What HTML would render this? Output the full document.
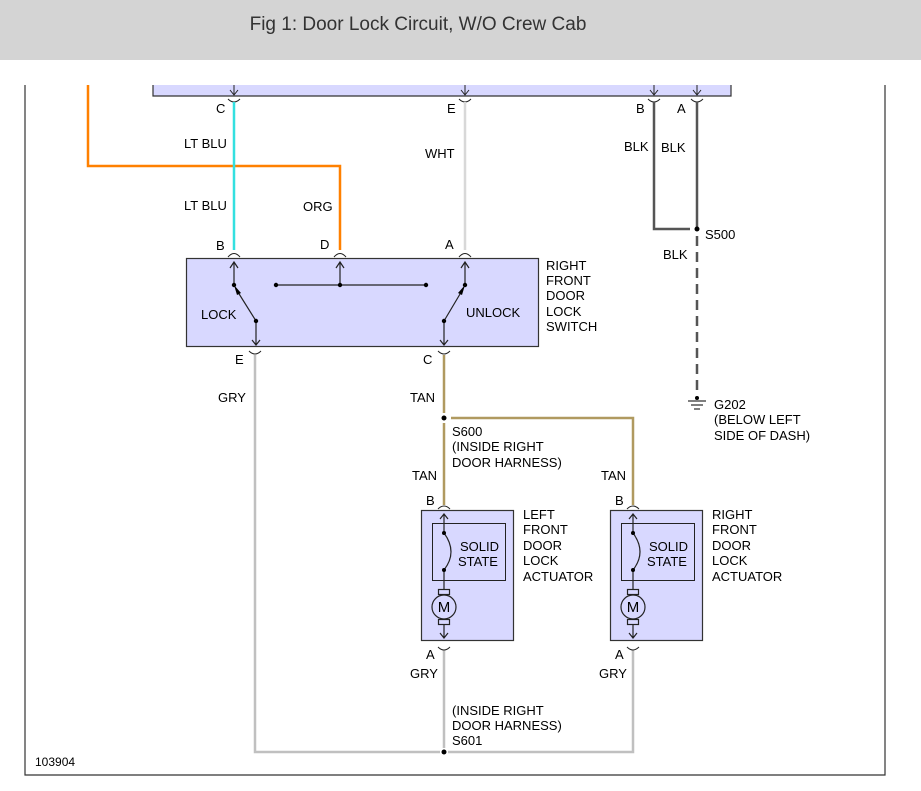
<!DOCTYPE html>
<html><head><meta charset="utf-8"><style>
html,body{margin:0;padding:0;background:#fff;}
svg{display:block;}
text{font-family:"Liberation Sans",Arial,sans-serif;font-size:13px;fill:#000;}
</style></head><body>
<svg width="921" height="791" viewBox="0 0 921 791" xmlns="http://www.w3.org/2000/svg">
<rect x="0" y="0" width="921" height="60" fill="#d4d4d4"/>
<text x="418" y="30" text-anchor="middle" style="font-size:19px;fill:#333">Fig 1: Door Lock Circuit, W/O Crew Cab</text>
<path d="M25 85 V775 H885 V85" fill="none" stroke="#333" stroke-width="1.2"/>
<path d="M153 85 V96 H731 V85" fill="#d8d8ff" stroke="#333" stroke-width="1.2"/>
<rect x="154" y="85" width="576" height="10" fill="#d8d8ff"/>
<g fill="none" stroke="#222" stroke-width="1">
<path d="M234 85V95 M230 90L234 95L238 90"/>
<path d="M465 85V95 M461 90L465 95L469 90"/>
<path d="M654 85V95 M650 90L654 95L658 90"/>
<path d="M697 85V95 M693 90L697 95L701 90"/>
<path d="M228 99Q234 105 240 99 M459 99Q465 105 471 99 M648 99Q654 105 660 99 M691 99Q697 105 703 99"/>
</g>
<path d="M88 85V166H340V250" fill="none" stroke="#ff8000" stroke-width="2.5"/>
<path d="M234 102V250" stroke="#33e0e0" stroke-width="2.5"/>
<path d="M465 102V250" stroke="#d8d8d8" stroke-width="2.5"/>
<path d="M654 102V229H690 M697 102V229" fill="none" stroke="#555" stroke-width="2.5"/>
<path d="M697 236V395" stroke="#555" stroke-width="2.5" stroke-dasharray="10,6"/>
<circle cx="697" cy="229" r="2.5" fill="#000"/>
<circle cx="697" cy="398" r="2" fill="#000"/>
<path d="M688 401H706 M691 405H703 M694 409H700" stroke="#333" stroke-width="1.2"/>
<text x="661" y="152">BLK</text>
<text x="624" y="151">BLK</text>
<text x="705" y="239">S500</text>
<text x="663" y="259">BLK</text>
<text x="714" y="409">G202</text><text x="714" y="424">(BELOW LEFT</text><text x="714" y="440">SIDE OF DASH)</text>
<text x="216" y="113">C</text><text x="447" y="113">E</text><text x="636" y="113">B</text><text x="677" y="113">A</text>
<text x="184" y="148">LT BLU</text><text x="425" y="158">WHT</text>
<text x="184" y="210">LT BLU</text><text x="303" y="211">ORG</text>
<text x="216" y="250">B</text><text x="320" y="249">D</text><text x="445" y="249">A</text>
<g fill="none" stroke="#222" stroke-width="1">
<path d="M228 257Q234 250 240 257 M334 257Q340 250 346 257 M459 257Q465 250 471 257"/>
</g>
<rect x="186.5" y="258.5" width="352" height="88" fill="#d8d8ff" stroke="#333" stroke-width="1.2"/>
<g fill="none" stroke="#222" stroke-width="1.2">
<path d="M234 285V262 M230 268L234 262L238 268"/>
<path d="M340 285V262 M336 268L340 262L344 268"/>
<path d="M465 285V262 M461 268L465 262L469 268"/>
<path d="M276 285H426"/>
<path d="M256 321L236 289 M256 321V345 M252 340L256 345L260 340"/>
<path d="M444 321L463 289 M444 321V345 M440 340L444 345L448 340"/>
</g>
<path d="M234 285L241 293L237 295Z M465 285L462 295L458 293Z" fill="#000"/>
<g fill="#000"><circle cx="234" cy="285" r="2.2"/><circle cx="276" cy="285" r="2.2"/><circle cx="340" cy="285" r="2.2"/><circle cx="426" cy="285" r="2.2"/><circle cx="465" cy="285" r="2.2"/><circle cx="256" cy="321" r="2.2"/><circle cx="444" cy="321" r="2.2"/></g>
<text x="201" y="319">LOCK</text><text x="466" y="317">UNLOCK</text>
<text x="546" y="270">RIGHT</text><text x="546" y="285">FRONT</text><text x="546" y="300">DOOR</text><text x="546" y="316">LOCK</text><text x="546" y="331">SWITCH</text>
<g fill="none" stroke="#222" stroke-width="1">
<path d="M249 351Q255 357 261 351 M438 351Q444 357 450 351"/>
</g>
<text x="235" y="364">E</text><text x="423" y="364">C</text>
<path d="M255 355V752H440 M448 752H633V650 M444 650V748" fill="none" stroke="#c0c0c0" stroke-width="2.5"/>
<path d="M444 355V413 M444 423V505 M451 418H633V505" fill="none" stroke="#b09a60" stroke-width="2.5"/>
<circle cx="444" cy="418" r="2.5" fill="#000"/>
<circle cx="444" cy="752" r="2.5" fill="#000"/>
<text x="218" y="402">GRY</text><text x="410" y="402">TAN</text>
<text x="452" y="436">S600</text><text x="452" y="451">(INSIDE RIGHT</text><text x="452" y="467">DOOR HARNESS)</text>
<text x="412" y="480">TAN</text><text x="601" y="480">TAN</text>
<text x="426" y="505">B</text><text x="615" y="505">B</text>
<text x="426" y="659">A</text><text x="615" y="659">A</text>
<text x="410" y="678">GRY</text><text x="599" y="678">GRY</text>
<text x="452" y="715">(INSIDE RIGHT</text><text x="452" y="730">DOOR HARNESS)</text><text x="452" y="745">S601</text>
<text x="35" y="766" style="font-size:12px">103904</text>
<g id="act">
<path d="M438 509Q444 503 450 509" fill="none" stroke="#222"/>
<rect x="421.5" y="510.5" width="92" height="130" fill="#d8d8ff" stroke="#333" stroke-width="1.2"/>
<rect x="432.5" y="523.5" width="73" height="57" fill="none" stroke="#222"/>
<g fill="none" stroke="#222" stroke-width="1.2">
<path d="M444 514V533 M440 519L444 514L448 519"/>
<path d="M444 533Q458 552 444 570"/>
<path d="M444 570V589 M444 625V638 M440 633L444 638L448 633"/>
<rect x="438.5" y="589.5" width="11" height="5"/>
<rect x="438.5" y="619.5" width="11" height="5"/>
<circle cx="444" cy="607" r="12" fill="#d8d8ff"/>
</g>
<circle cx="444" cy="533" r="2" fill="#000"/><circle cx="444" cy="570" r="2" fill="#000"/>
<text x="444" y="612" text-anchor="middle" style="font-size:15px">M</text>
<text x="460" y="551">SOLID</text><text x="458" y="566">STATE</text>
<path d="M438 647Q444 653 450 647" fill="none" stroke="#222"/>
</g>
<use href="#act" x="189"/>
<text x="523" y="519">LEFT</text><text x="523" y="534">FRONT</text><text x="523" y="550">DOOR</text><text x="523" y="565">LOCK</text><text x="523" y="581">ACTUATOR</text>
<text x="712" y="519">RIGHT</text><text x="712" y="534">FRONT</text><text x="712" y="550">DOOR</text><text x="712" y="565">LOCK</text><text x="712" y="581">ACTUATOR</text>
</svg>
</body></html>
